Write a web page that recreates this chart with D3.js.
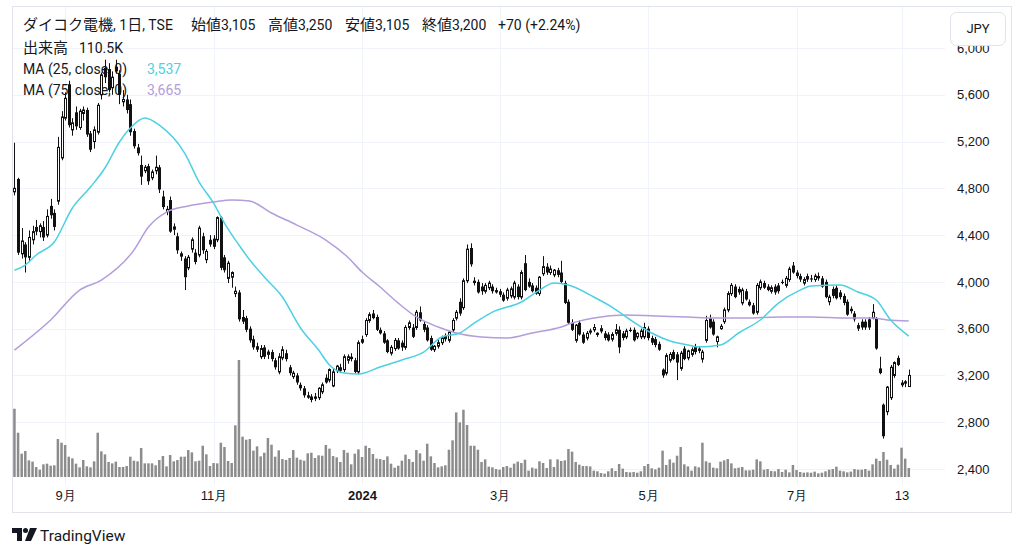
<!DOCTYPE html>
<html>
<head>
<meta charset="utf-8">
<script src="https://cdn.jsdelivr.net/npm/d3@7"></script>
<style>
  body { margin: 0; background: #fff; }
  svg { display: block; font-family: Roboto, "Noto Sans CJK JP", sans-serif; }
</style>
</head>
<body>
<div id="chart"></div>
<script>
// daily candles, [open, high, low, close], 2023-08-14 .. 2024-08-15
var ohlc = [
  [4770,5190,4740,4800],[4880,4890,4230,4250],[4240,4460,4200,4350],[4320,4340,4080,4210],[4210,4440,4180,4380],
  [4360,4480,4320,4430],[4470,4530,4400,4430],[4430,4500,4380,4480],[4470,4520,4350,4380],[4400,4620,4380,4560],
  [4650,4710,4540,4570],[4590,4620,4440,4470],[4690,5240,4660,5150],[5060,5460,5040,5410],[5400,5620,5380,5570],
  [5690,5720,5320,5340],[5300,5400,5250,5360],[5450,5500,5300,5330],[5320,5480,5300,5460],[5440,5500,5380,5470],
  [5470,5490,5240,5260],[5270,5290,5110,5130],[5200,5330,5140,5300],[5280,5530,5260,5510],[5600,5790,5560,5770],
  [5830,5900,5700,5750],[5820,5870,5620,5640],[5660,5800,5600,5750],[5840,5900,5780,5800],[5780,5810,5520,5600],
  [5540,5640,5500,5560],[5560,5600,5440,5470],[5520,5560,5250,5280],[5290,5310,5140,5160],[5150,5180,5080,5100],
  [5000,5080,4830,4900],[4950,5000,4930,4980],[4990,5010,4830,4860],[4890,4960,4870,4940],[4950,5080,4920,4980],
  [4980,5000,4760,4790],[4730,4780,4620,4640],[4600,4650,4570,4620],[4700,4730,4420,4430],[4450,4500,4400,4470],
  [4390,4420,4240,4270],[4220,4260,4180,4240],[4200,4220,3930,4040],[4120,4230,4100,4210],[4280,4380,4250,4360],
  [4250,4280,4150,4170],[4230,4480,4210,4460],[4390,4420,4240,4270],[4190,4280,4160,4260],[4360,4400,4300,4320],
  [4370,4400,4280,4300],[4360,4560,4340,4550],[4550,4560,4100,4120],[4210,4230,4080,4100],[4030,4180,3990,4160],
  [4040,4090,3950,4080],[3900,3960,3870,3920],[3910,3930,3660,3680],[3700,3760,3640,3660],[3690,3710,3570,3590],
  [3600,3620,3480,3500],[3510,3540,3420,3440],[3450,3480,3400,3420],[3360,3460,3340,3430],[3440,3460,3340,3360],
  [3380,3420,3340,3400],[3400,3420,3320,3340],[3330,3350,3250,3270],[3230,3390,3210,3360],[3350,3450,3330,3420],
  [3390,3420,3320,3340],[3270,3290,3200,3220],[3190,3240,3170,3220],[3200,3220,3120,3140],[3120,3140,3070,3090],
  [3090,3110,3010,3030],[3030,3060,3000,3010],[3020,3040,2970,2990],[3020,3050,2980,3000],[3010,3100,2990,3090],
  [3060,3140,3040,3120],[3180,3210,3130,3140],[3160,3260,3140,3250],[3110,3260,3100,3230],[3240,3290,3220,3280],
  [3270,3300,3220,3240],[3250,3380,3230,3360],[3330,3380,3300,3360],[3360,3390,3320,3340],[3330,3350,3220,3230],
  [3230,3500,3210,3480],[3510,3540,3470,3480],[3550,3690,3530,3670],[3670,3740,3650,3720],[3730,3760,3680,3690],
  [3700,3720,3580,3590],[3590,3610,3550,3560],[3560,3580,3470,3480],[3500,3510,3390,3400],[3390,3460,3370,3440],
  [3430,3520,3410,3500],[3500,3520,3420,3430],[3480,3500,3410,3440],[3440,3630,3420,3610],[3610,3670,3590,3650],
  [3610,3640,3520,3530],[3610,3760,3590,3740],[3740,3790,3660,3670],[3640,3660,3570,3590],[3610,3630,3490,3500],
  [3520,3540,3410,3420],[3420,3460,3400,3450],[3450,3510,3430,3480],[3480,3540,3460,3520],[3540,3560,3490,3510],
  [3500,3580,3480,3570],[3590,3690,3570,3670],[3690,3760,3670,3740],[3830,3860,3710,3730],[3780,4030,3760,4010],
  [4010,4320,3990,4280],[4290,4330,4130,4150],[4010,4040,3970,3990],[4000,4020,3900,3910],[3960,3990,3890,3920],
  [3920,3990,3900,3970],[3950,4010,3930,3990],[3960,3980,3900,3920],[3930,3950,3900,3910],[3920,3940,3870,3890],
  [3890,3910,3830,3840],[3860,3950,3840,3930],[3880,3960,3860,3940],[3870,4010,3850,3990],[3960,3980,3850,3870],
  [3870,4100,3850,4080],[4160,4230,3920,3930],[4000,4030,3950,3960],[3970,3990,3910,3920],[3950,3970,3890,3900],
  [3900,4050,3880,4040],[4070,4220,4050,4130],[4130,4160,4060,4080],[4080,4140,4060,4110],[4060,4110,4040,4100],
  [4100,4120,4040,4060],[4080,4180,3990,4000],[3990,4010,3810,3820],[3830,3850,3640,3650],[3650,3680,3580,3590],
  [3500,3640,3480,3630],[3650,3670,3540,3550],[3550,3570,3470,3480],[3520,3580,3500,3560],[3570,3600,3550,3580],
  [3590,3640,3570,3610],[3550,3570,3530,3560],[3580,3630,3560,3600],[3560,3580,3500,3520],[3550,3570,3490,3500],
  [3510,3570,3490,3550],[3560,3640,3540,3590],[3590,3620,3390,3440],[3560,3580,3500,3520],[3530,3600,3510,3580],
  [3590,3610,3570,3580],[3590,3610,3490,3500],[3530,3570,3510,3560],[3530,3600,3510,3580],[3530,3650,3510,3610],
  [3600,3620,3500,3520],[3520,3540,3460,3480],[3510,3530,3440,3460],[3470,3490,3410,3420],[3250,3260,3180,3200],
  [3220,3390,3200,3370],[3330,3400,3310,3380],[3400,3420,3330,3340],[3380,3400,3160,3310],[3260,3410,3240,3390],
  [3430,3450,3330,3340],[3350,3420,3330,3410],[3380,3440,3360,3420],[3450,3470,3380,3400],[3430,3450,3390,3410],
  [3340,3420,3310,3400],[3500,3710,3480,3670],[3690,3720,3600,3610],[3660,3680,3540,3550],[3490,3540,3440,3530],
  [3600,3640,3590,3620],[3660,3780,3640,3760],[3760,3920,3740,3900],[3900,3990,3880,3970],[3960,3980,3860,3870],
  [3940,3960,3890,3910],[3820,3950,3800,3930],[3920,3940,3840,3850],[3830,3850,3790,3800],[3800,3820,3720,3730],
  [3740,3990,3720,3970],[3950,4020,3930,4000],[3990,4010,3940,3950],[3960,3980,3920,3930],[3920,3970,3900,3950],
  [3960,3980,3890,3910],[3970,3990,3900,3920],[4000,4020,3980,3990],[3970,4050,3950,4030],[4020,4130,4000,4110],
  [4140,4170,4070,4080],[4080,4100,4030,4050],[4050,4070,4000,4020],[3990,4040,3970,4020],[4050,4070,4000,4020],
  [4030,4060,4000,4020],[4020,4070,4000,4050],[4050,4080,4010,4030],[4030,4050,3950,3960],[4000,4020,3860,3870],
  [3830,3890,3800,3870],[3940,3960,3860,3880],[3950,3970,3850,3860],[3910,3930,3850,3870],[3880,3900,3800,3820],
  [3830,3850,3710,3720],[3770,3790,3730,3750],[3730,3750,3660,3680],[3630,3650,3580,3600],[3660,3680,3590,3610],
  [3660,3680,3590,3610],[3680,3700,3590,3610],[3690,3810,3680,3740],[3690,3700,3420,3430],[3260,3360,3210,3220],
  [2950,2960,2660,2680],[2890,3110,2860,3100],[3010,3290,2990,3270],[3200,3320,3180,3310],[3350,3370,3280,3290],
  [3120,3160,3100,3135],[3150,3160,3100,3130],[3105,3250,3105,3200]
];

// volume, thousands of shares
var volumes = [
  840,545,287,320,205,189,123,90,156,164,139,144,467,422,394,250,230,164,119,209,
  131,119,193,545,316,279,185,168,189,123,123,135,250,201,193,357,168,168,168,144,
  209,258,131,271,193,209,250,250,332,303,193,201,385,279,135,172,168,422,369,197,
  172,636,1440,496,459,467,324,377,254,299,480,398,250,328,221,209,234,332,238,213,
  201,291,299,234,267,262,394,349,258,242,185,332,299,156,287,340,246,385,357,283,
  226,221,209,254,164,115,139,201,275,221,185,332,291,201,410,254,172,119,131,144,
  336,451,795,672,828,640,385,385,336,185,217,127,119,98,
  90,123,135,115,164,189,172,213,78,115,103,193,172,111,217,123,217,197,205,344,
  312,185,152,135,135,131,78,70,49,41,70,107,74,160,103,62,57,62,53,70,
  135,160,107,94,115,324,148,217,176,262,369,156,131,78,131,119,422,193,176,115,
  107,189,205,221,168,107,115,123,82,82,90,217,193,90,98,74,70,98,62,90,
  57,148,86,62,53,57,53,66,45,53,70,90,98,127,78,70,57,66,98,90,
  90,98,78,156,226,197,308,213,148,103,152,361,226,110.5
];

// moving averages (bar index, value)
var ma25Idx = [0,3,6,11,16,21,25,29,32,36,40,47,51,55,58,62,65,69,74,79,84,87,91,95,101,107,113,118,123,127,132,140,145,149,153,160,165,171,176,182,186,189,195,200,206,211,217,220,228,233,238,242,247];
var ma25Val = [4100,4144,4230,4341,4632,4811,4974,5196,5316,5401,5341,5102,4854,4674,4503,4315,4187,4042,3871,3606,3417,3289,3221,3212,3272,3332,3400,3529,3563,3648,3742,3828,3930,3990,3973,3871,3785,3657,3563,3486,3460,3443,3460,3563,3674,3819,3930,3965,3973,3913,3845,3674,3537];
var ma75Idx = [0,10,18,24,33,37,42,48,55,60,65,71,78,86,92,96,101,106,111,117,122,129,136,143,151,154,162,169,177,186,193,202,211,220,230,237,241,247];
var ma75Val = [3417,3674,3930,4016,4272,4469,4597,4649,4683,4700,4691,4589,4486,4358,4213,4084,3956,3819,3700,3614,3563,3529,3520,3563,3614,3648,3700,3717,3708,3700,3691,3691,3700,3700,3691,3691,3674,3665];

var priceTicks = [2400,2800,3200,3600,4000,4400,4800,5200,5600,6000];
var tickIdx = [14,55,96,134,175,216,245];
var tickLabels = ["9月","11月","2024","3月","5月","7月","13"];

var w = 1024, h = 557;
var svg = d3.select("#chart").append("svg").attr("width", w).attr("height", h);

var x = d3.scaleLinear().domain([-0.4, 257]).range([13, 945]);
var y = d3.scaleLinear().domain([2400, 6000]).range([469, 48]);
var yv = d3.scaleLinear().domain([0, 1440]).range([477, 360]);

svg.append("defs").append("clipPath").attr("id", "plot")
  .append("rect").attr("x", 13).attr("y", 7).attr("width", 932).attr("height", 478);

// frame
svg.append("rect").attr("x", 12.5).attr("y", 6.5).attr("width", 999).attr("height", 506)
  .attr("fill", "none").attr("stroke", "#e0e3eb");

// grid
svg.append("g").selectAll("line").data(priceTicks).join("line")
  .attr("x1", 13).attr("x2", 945)
  .attr("y1", function(d){ return Math.round(y(d)) + 0.5; })
  .attr("y2", function(d){ return Math.round(y(d)) + 0.5; })
  .attr("stroke", "#f0f3fa");
svg.append("g").selectAll("line").data(tickIdx).join("line")
  .attr("x1", function(d){ return Math.round(x(d)) + 0.5; })
  .attr("x2", function(d){ return Math.round(x(d)) + 0.5; })
  .attr("y1", 7).attr("y2", 485)
  .attr("stroke", "#f0f3fa");

// legend: CJK runs a little larger, like the original
var legend = svg.append("g").attr("font-size", 14).attr("fill", "#131722");
var legendRows = [
  [23, 30, "ダイコク電機, 1日, TSE"], [191, 30, "始値3,105"], [268, 30, "高値3,250"],
  [345, 30, "安値3,105"], [422, 30, "終値3,200"], [498, 30, "+70 (+2.24%)"],
  [23, 53, "出来高"], [79, 53, "110.5K"],
  [23, 74, "MA (25, close, 0)"], [23, 95, "MA (75, close, 0)"]
];
function addText(g, r) {
  var t = g.append("text").attr("x", r[0]).attr("y", r[1]);
  var runs = r[2].match(/[\u3000-\u9fff]+|[^\u3000-\u9fff]+/g);
  runs.forEach(function(s){
    var sp = t.append("tspan").text(s);
    if (/[\u3000-\u9fff]/.test(s)) sp.attr("font-size", 15).attr("font-family", "'Noto Sans CJK JP', sans-serif");
  });
}
legendRows.forEach(function(r){ addText(legend, r); });
legend.append("text").attr("x", 147).attr("y", 74).attr("fill", "#4dd0e1").text(d3.format(",")(ma25Val[ma25Val.length - 1]));
legend.append("text").attr("x", 147).attr("y", 95).attr("fill", "#b39ddb").text(d3.format(",")(ma75Val[ma75Val.length - 1]));

var plot = svg.append("g").attr("clip-path", "url(#plot)");

// volume
plot.append("g").selectAll("rect").data(volumes).join("rect")
  .attr("x", function(d, i){ return x(i) - 1.25; })
  .attr("width", 2.5)
  .attr("y", function(d){ return yv(d); })
  .attr("height", function(d){ return yv(0) - yv(d); })
  .attr("fill", "#8c8c8c");

// candles
var cg = plot.append("g");
cg.selectAll("line").data(ohlc).join("line")
  .attr("x1", function(d, i){ return Math.round(x(i)) + 0.5; })
  .attr("x2", function(d, i){ return Math.round(x(i)) + 0.5; })
  .attr("y1", function(d){ return y(d[1]); })
  .attr("y2", function(d){ return y(d[2]); })
  .attr("stroke", "#111").attr("stroke-width", 1);
cg.selectAll("rect").data(ohlc).join("rect")
  .attr("x", function(d, i){
    var cx = Math.round(x(i));
    return d[3] >= d[0] ? cx - 0.5 : cx - 1;
  })
  .attr("width", function(d){ return d[3] >= d[0] ? 2 : 3; })
  .attr("y", function(d){ return y(Math.max(d[0], d[3])); })
  .attr("height", function(d){ return Math.max(1, Math.abs(y(d[0]) - y(d[3]))); })
  .attr("fill", function(d){ return d[3] >= d[0] ? "#fff" : "#111"; })
  .attr("stroke", function(d){ return d[3] >= d[0] ? "#111" : "none"; })
  .attr("stroke-width", 1);

// moving averages
var line = d3.line()
  .x(function(d){ return x(d[0]); })
  .y(function(d){ return y(d[1]); })
  .curve(d3.curveMonotoneX);
plot.append("path").datum(d3.zip(ma75Idx, ma75Val)).attr("d", line)
  .attr("fill", "none").attr("stroke", "#b39ddb").attr("stroke-width", 1.5);
plot.append("path").datum(d3.zip(ma25Idx, ma25Val)).attr("d", line)
  .attr("fill", "none").attr("stroke", "#4dd0e1").attr("stroke-width", 1.5);

// price axis
var ay = svg.append("g").attr("transform", "translate(955,0)")
  .call(d3.axisRight(y).tickValues(priceTicks).tickFormat(d3.format(",")).tickSize(0).tickPadding(2));
ay.select(".domain").remove();
ay.selectAll("text").attr("font-size", 13).attr("fill", "#131722").attr("font-family", null);

// JPY button (covers top label like the original)
svg.append("rect").attr("x", 950.5).attr("y", 12.5).attr("width", 55).attr("height", 33).attr("rx", 6)
  .attr("fill", "#fff").attr("stroke", "#e0e3eb");
svg.append("text").attr("x", 978).attr("y", 33).attr("text-anchor", "middle")
  .attr("font-size", 13).attr("fill", "#131722").text("JPY");

// time axis
var ax = svg.append("g").attr("transform", "translate(0,485)")
  .call(d3.axisBottom(x).tickValues(tickIdx).tickFormat(function(d, i){ return tickLabels[i]; }).tickSize(0).tickPadding(6));
ax.select(".domain").remove();
ax.selectAll("text").attr("font-size", 13).attr("fill", "#131722").attr("font-family", null)
  .attr("font-weight", function(d, i){ return tickLabels[i] === "2024" ? 700 : 400; });

// TradingView mark
var logo = svg.append("g").attr("fill", "#131722");
logo.append("path").attr("d", "M12 528h10v13h-5v-8h-5z");
logo.append("circle").attr("cx", 25.5).attr("cy", 530.5).attr("r", 2.5);
logo.append("path").attr("d", "M30 528h7l-6 13h-6z");
logo.append("text").attr("x", 40).attr("y", 541).attr("font-size", 15.5).text("TradingView");
</script>
</body>
</html>
